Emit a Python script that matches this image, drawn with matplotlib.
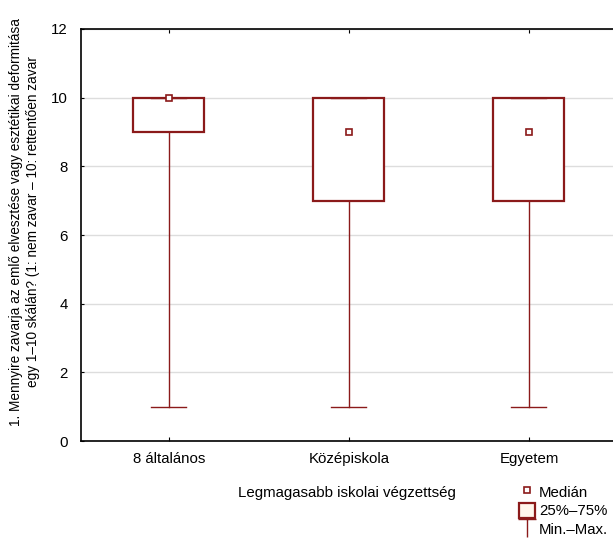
import matplotlib.pyplot as plt
from matplotlib.lines import Line2D
from matplotlib.patches import Patch
from matplotlib.path import Path

plt.rcParams['font.family'] = ['Liberation Sans', 'DejaVu Sans']

# data
categories = ["8 általános", "Középiskola", "Egyetem"]
medians = [10, 9, 9]
q1 = [9, 7, 7]
q3 = [10, 10, 10]
mins = [1, 1, 1]
maxs = [10, 10, 10]

red = "#8B1A1A"

stats = []
for i in range(len(categories)):
    stats.append({"med": medians[i], "q1": q1[i], "q3": q3[i],
                  "whislo": mins[i], "whishi": maxs[i], "label": categories[i]})

fig = plt.figure(figsize=(6.13, 5.4), dpi=100)
ax = fig.add_axes([0.132, 0.1833, 0.868, 0.763])

ax.bxp(stats, positions=range(len(categories)), widths=0.395, showfliers=False,
       patch_artist=True, showcaps=True,
       boxprops=dict(facecolor="white", edgecolor=red, linewidth=1.6),
       whiskerprops=dict(color=red, linewidth=1.0),
       capprops=dict(color=red, linewidth=1.0),
       capwidths=0.195,
       medianprops=dict(linestyle="none"))
# median as small hollow squares
ax.plot(range(len(categories)), medians, linestyle="none", marker="s",
        markersize=5, markerfacecolor="white", markeredgecolor=red,
        markeredgewidth=1.2, zorder=5)

ax.set_xlim(-0.489, 2.467)
ax.set_ylim(0, 12)
ax.set_yticks(range(0, 13, 2))
ax.set_xticks(range(len(categories)))
ax.set_xticklabels(categories)
ax.tick_params(axis="y", direction="in", length=2, labelsize=10.8, pad=9.5)
ax.tick_params(axis="x", direction="in", length=3, top=True, labelsize=10.8, pad=8)
ax.grid(axis="y", color="#DDDDDD", linewidth=1)
ax.set_axisbelow(True)
ax.spines["right"].set_visible(False)
for s in ["left", "top", "bottom"]:
    ax.spines[s].set_linewidth(1.2)

ax.set_xlabel("Legmagasabb iskolai végzettség", fontsize=10.8, labelpad=14)
ax.set_ylabel("1. Mennyire zavarja az emlő elvesztése vagy esztétikai deformitása\n"
              "egy 1–10 skálán? (1: nem zavar – 10: rettentően zavar",
              fontsize=9.8, linespacing=1.3)
ax.yaxis.set_label_coords(-0.076, 0.5316)

# legend
tee = Path([(-0.5, 0.5), (0.5, 0.5), (0, 0.5), (0, -0.5)],
           [Path.MOVETO, Path.LINETO, Path.MOVETO, Path.LINETO])
handles = [
    Line2D([], [], linestyle="none", marker="s", markersize=5,
           markerfacecolor="white", markeredgecolor=red, markeredgewidth=1.2),
    Patch(facecolor="#FFF6EC", edgecolor=red, linewidth=1.6),
    Line2D([], [], linestyle="none", marker=tee, markersize=13.5,
           markeredgecolor=red, markeredgewidth=1.0),
]
fig.legend(handles, ["Medián", "25%–75%", "Min.–Max."], loc="upper left",
           bbox_to_anchor=(519 / 613, 1 - 484 / 540), frameon=False, fontsize=10.8,
           handlelength=1.05, handleheight=1.15, handletextpad=0.3,
           labelspacing=0.22, borderaxespad=0, borderpad=0)

fig.savefig("out.png", dpi=100)
